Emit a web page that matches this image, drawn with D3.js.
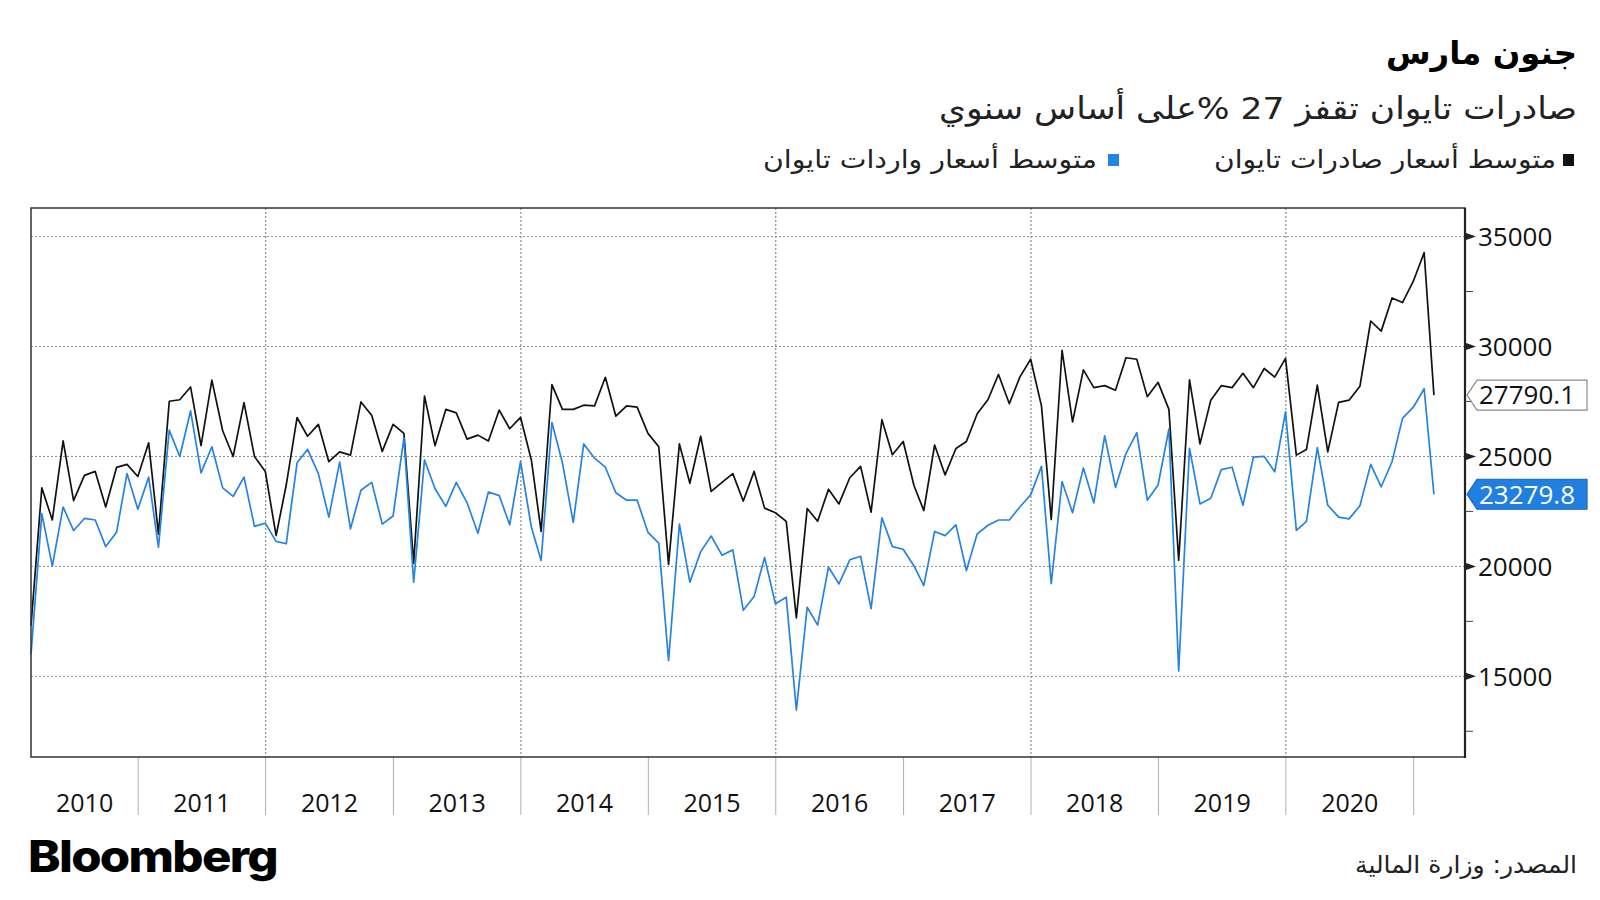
<!DOCTYPE html>
<html>
<head>
<meta charset="utf-8">
<script src="https://cdn.jsdelivr.net/npm/d3@7"></script>
<style>
  html, body { margin: 0; padding: 0; background: #ffffff; }
  svg { display: block; }
</style>
</head>
<body>
<svg id="chart" width="1600" height="900"></svg>
<script>
// ---- Data (monthly, Feb 2010 – Feb 2021) ----
const startMonth = [2010, 1]; // Feb 2010 (month index 1)
const exportPrices = [
  // 2010 (Feb–Dec)
  17300, 23570, 22110, 25710, 22990, 24140, 24320, 22700, 24500, 24640, 24090,
  // 2011
  25620, 21470, 27510, 27580, 28160, 25490, 28470, 26170, 25000, 27450, 25000, 24320,
  // 2012
  21400, 23700, 26770, 25920, 26460, 24760, 25210, 25060, 27480, 26860, 25230, 26460,
  // 2013
  26050, 20140, 27750, 25490, 27140, 26980, 25790, 25970, 25700, 27110, 26260, 26780,
  // 2014
  24840, 21590, 28270, 27140, 27140, 27330, 27300, 28600, 26830, 27300, 27240, 26050,
  // 2015
  25440, 20090, 25570, 23780, 25920, 23410, 23820, 24220, 22970, 24320, 22650, 22440,
  // 2016
  22050, 17660, 22630, 22050, 23510, 22840, 24030, 24550, 22470, 26670, 25080, 25680,
  // 2017
  23670, 22540, 25520, 24160, 25360, 25680, 26940, 27590, 28730, 27400, 28610, 29420,
  // 2018
  27300, 22130, 29830, 26570, 28940, 28130, 28220, 28010, 29490, 29420, 27720, 28370,
  // 2019
  27140, 20270, 28480, 25570, 27560, 28220, 28130, 28780, 28130, 29000, 28610, 29460,
  // 2020
  25060, 25320, 28240, 25210, 27460, 27560, 28190, 31160, 30700, 32210, 32000, 32970,
  // 2021
  34270, 27790.1
];
const importPrices = [
  // 2010 (Feb–Dec)
  16000, 22400, 20010, 22700, 21630, 22180, 22110, 20900, 21550, 24220, 22600,
  // 2011
  24060, 20870, 26200, 25000, 27070, 24250, 25440, 23570, 23180, 24060, 21820, 21970,
  // 2012
  21140, 21030, 24710, 25320, 24220, 22240, 24740, 21710, 23460, 23820, 21920, 22290,
  // 2013
  25840, 19280, 24840, 23540, 22730, 23820, 22890, 21510, 23380, 23220, 21890, 24760,
  // 2014
  21790, 20270, 26540, 24710, 22000, 25570, 24920, 24510, 23350, 23010, 23010, 21550,
  // 2015
  21060, 15710, 21920, 19280, 20670, 21380, 20510, 20750, 18000, 18630, 20410, 18300,
  // 2016
  18600, 13460, 18140, 17330, 19970, 19200, 20300, 20460, 18080, 22210, 20900, 20780,
  // 2017
  20020, 19130, 21590, 21400, 21890, 19810, 21480, 21870, 22110, 22110, 22700, 23250,
  // 2018
  24550, 19210, 23860, 22440, 24480, 22890, 25940, 23590, 25130, 26080, 23010, 23700,
  // 2019
  26250, 15240, 25370, 22840, 23100, 24400, 24510, 22780, 24970, 25000, 24300, 27030,
  // 2020
  21640, 22050, 25400, 22780, 22240, 22160, 22760, 24640, 23620, 24760, 26730, 27240,
  // 2021
  28080, 23279.8
];
const yMajorTicks = [15000, 20000, 25000, 30000, 35000];
const yMinorTicks = [12500, 17500, 22500, 27500, 32500];
const yearLabels = ["2010","2011","2012","2013","2014","2015","2016","2017","2018","2019","2020"];
const gridYears = [2012, 2014, 2016, 2018, 2020];

const titleText = "جنون مارس";
const subtitleText = "صادرات تايوان تقفز 27 %على أساس سنوي";
const seriesNames = ["متوسط أسعار صادرات تايوان", "متوسط أسعار واردات تايوان"];
const sourceText = "المصدر: وزارة المالية";

const colors = { exports: "#111111", imports: "#2583e3" };

// ---- Layout ----
const svg = d3.select("#chart");
const plot = { left: 31, top: 208, right: 1465, bottom: 757 };
const arabicFont = "'DejaVu Sans', 'Noto Sans', sans-serif";
const numFont = "'Open Sans', 'Noto Sans', sans-serif";

// month-end dates
const dates = exportPrices.map((_, i) => new Date(startMonth[0], startMonth[1] + i + 1, 0));

const x = d3.scaleTime()
  .domain([new Date(2010, 1, 28), new Date(2021, 4, 28)])
  .range([plot.left, plot.right]);
const y = d3.scaleLinear()
  .domain([11330, 36300])
  .range([plot.bottom, plot.top]);

function arabicText(xPos, yPos, txt, size, width, weight, fill) {
  return svg.append("text").attr("x", xPos).attr("y", yPos)
    .attr("direction", "rtl").attr("text-anchor", "start")
    .attr("textLength", width).attr("lengthAdjust", "spacingAndGlyphs")
    .style("font-family", arabicFont).style("font-weight", weight)
    .style("font-size", size + "px").attr("fill", fill).text(txt);
}

// ---- Titles ----
arabicText(1577, 64, titleText, 32, 191, "bold", "#000");
arabicText(1577, 119, subtitleText, 31, 638, "normal", "#222");

// ---- Legend ----
const legendItems = [
  { name: seriesNames[0], color: colors.exports, sq: 1563, tx: 1556, w: 342 },
  { name: seriesNames[1], color: colors.imports, sq: 1108, tx: 1097, w: 334 }
];
legendItems.forEach(d => {
  svg.append("rect").attr("x", d.sq).attr("y", 154).attr("width", 11).attr("height", 12).attr("fill", d.color);
  arabicText(d.tx, 168, d.name, 25, d.w, "normal", "#222");
});

// ---- Gridlines ----
const g = svg.append("g");
g.selectAll(".hgrid").data(yMajorTicks).join("line")
  .attr("x1", plot.left).attr("x2", plot.right)
  .attr("y1", d => y(d)).attr("y2", d => y(d))
  .attr("stroke", "#8a8a8a").attr("stroke-width", 1).attr("stroke-dasharray", "2,2");
g.selectAll(".vgrid").data(gridYears).join("line")
  .attr("x1", d => x(new Date(d, 0, 1))).attr("x2", d => x(new Date(d, 0, 1)))
  .attr("y1", plot.top).attr("y2", plot.bottom)
  .attr("stroke", "#8a8a8a").attr("stroke-width", 1.2).attr("stroke-dasharray", "2,2");

// ---- X axis ticks and labels ----
const yearTicks = d3.range(2011, 2022).map(yr => new Date(yr, 0, 1));
g.selectAll(".xtick").data(yearTicks).join("line")
  .attr("x1", d => x(d)).attr("x2", d => x(d))
  .attr("y1", plot.bottom).attr("y2", 815)
  .attr("stroke", "#b0b0b0").attr("stroke-width", 1);
const bounds = [plot.left].concat(yearTicks.map(d => x(d)));
g.selectAll(".xlabel").data(yearLabels).join("text")
  .attr("x", (d, i) => (bounds[i] + bounds[i + 1]) / 2)
  .attr("y", 812)
  .attr("text-anchor", "middle")
  .style("font-family", numFont).style("font-size", "25px")
  .attr("fill", "#111").text(d => d);

// ---- Lines ----
const line = d3.line().x((d, i) => x(dates[i])).y(d => y(d));
svg.append("path").datum(exportPrices).attr("d", line)
  .attr("fill", "none").attr("stroke", colors.exports).attr("stroke-width", 1.7).attr("stroke-linejoin", "round");
svg.append("path").datum(importPrices).attr("d", line)
  .attr("fill", "none").attr("stroke", colors.imports).attr("stroke-width", 1.7).attr("stroke-linejoin", "round");

// ---- Frame ----
svg.append("rect").attr("x", plot.left).attr("y", plot.top)
  .attr("width", plot.right - plot.left).attr("height", plot.bottom - plot.top)
  .attr("fill", "none").attr("stroke", "#333").attr("stroke-width", 1.5);
svg.append("line").attr("x1", plot.right).attr("x2", plot.right)
  .attr("y1", plot.top).attr("y2", plot.bottom + 1)
  .attr("stroke", "#222").attr("stroke-width", 2.2);

// ---- Y axis (right) ----
svg.selectAll(".ymaj").data(yMajorTicks).join("path")
  .attr("d", d => `M${plot.right + 1},${y(d) - 3.5} L${plot.right + 11},${y(d)} L${plot.right + 1},${y(d) + 3.5} Z`)
  .attr("fill", "#222");
svg.selectAll(".ymin").data(yMinorTicks).join("line")
  .attr("x1", plot.right).attr("x2", plot.right + 8)
  .attr("y1", d => y(d)).attr("y2", d => y(d))
  .attr("stroke", "#444").attr("stroke-width", 1);
svg.selectAll(".ylab").data(yMajorTicks).join("text")
  .attr("x", plot.right + 13).attr("y", d => y(d))
  .attr("dy", "0.36em")
  .style("font-family", numFont).style("font-size", "26px")
  .attr("fill", "#111").text(d => d);

// ---- Last-value labels ----
const lastLabels = [
  { v: exportPrices[exportPrices.length - 1], fill: "#ffffff", stroke: "#8a8a8a", text: "#111" },
  { v: importPrices[importPrices.length - 1], fill: "#2080e2", stroke: "#1a64b8", text: "#ffffff" }
];
lastLabels.forEach(d => {
  const cy = y(d.v), h = 30, x0 = plot.right + 2, x1 = plot.right + 12, x2 = 1587;
  svg.append("path")
    .attr("d", `M${x0},${cy} L${x1},${cy - h / 2} L${x2},${cy - h / 2} L${x2},${cy + h / 2} L${x1},${cy + h / 2} Z`)
    .attr("fill", d.fill).attr("stroke", d.stroke).attr("stroke-width", 1.2);
  svg.append("text").attr("x", x1 + 2).attr("y", cy).attr("dy", "0.36em")
    .style("font-family", numFont).style("font-size", "26px")
    .attr("fill", d.text).text(d3.format(".1f")(d.v));
});

// ---- Footer ----
svg.append("text").attr("x", 28).attr("y", 872)
  .style("font-family", "Inter, 'Liberation Sans', sans-serif").style("font-weight", "800")
  .style("font-size", "44px").style("letter-spacing", "-1.5px")
  .attr("textLength", 249).attr("lengthAdjust", "spacingAndGlyphs")
  .attr("fill", "#000").text("Bloomberg");
arabicText(1577, 873, sourceText, 24, 222, "normal", "#222");
</script>
</body>
</html>
